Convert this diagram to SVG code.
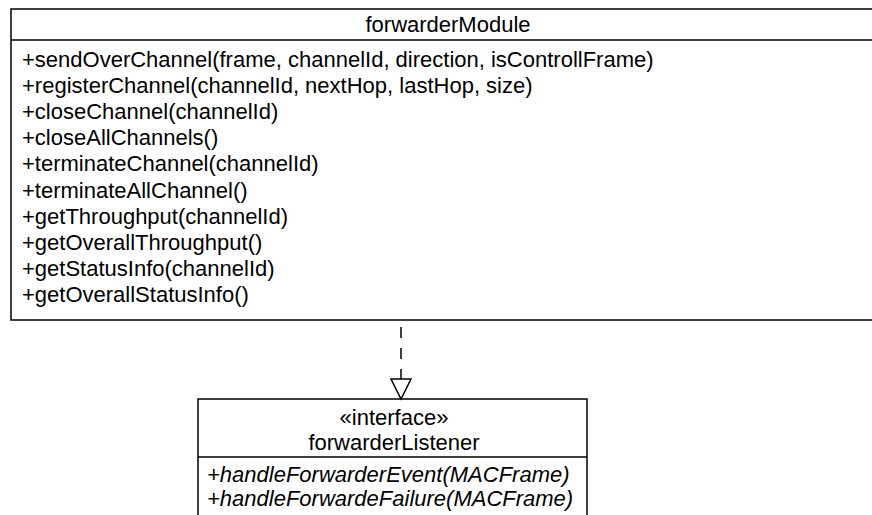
<svg xmlns="http://www.w3.org/2000/svg" width="872" height="515" viewBox="0 0 872 515">
  <style>
    .box { fill: #ffffff; stroke: #000000; stroke-width: 1.5; }
    .sep { stroke: #000000; stroke-width: 1.5; }
    text { font-family: "Liberation Sans", Arial, sans-serif; font-size: 22px; fill: #000000; }
    .c { text-anchor: middle; }
    .op { font-style: italic; }
    .dep { fill: none; stroke: #000000; stroke-width: 1.5; stroke-dasharray: 11 10; }
    .head { fill: #ffffff; stroke: #000000; stroke-width: 1.5; }
  </style>
  <rect width="872" height="515" fill="#ffffff"/>

  <!-- class forwarderModule -->
  <g id="forwarderModule">
    <rect class="box" x="11" y="9" width="875" height="311"/>
    <line class="sep" x1="11" y1="40" x2="886" y2="40"/>
    <text class="c" x="448" y="32">forwarderModule</text>
    <text x="22" y="67">+sendOverChannel(frame, channelId, direction, isControllFrame)</text>
    <text x="22" y="93">+registerChannel(channelId, nextHop, lastHop, size)</text>
    <text x="22" y="119">+closeChannel(channelId)</text>
    <text x="22" y="145">+closeAllChannels()</text>
    <text x="22" y="171">+terminateChannel(channelId)</text>
    <text x="22" y="198">+terminateAllChannel()</text>
    <text x="22" y="224">+getThroughput(channelId)</text>
    <text x="22" y="250">+getOverallThroughput()</text>
    <text x="22" y="276">+getStatusInfo(channelId)</text>
    <text x="22" y="302">+getOverallStatusInfo()</text>
  </g>

  <!-- interface forwarderListener -->
  <g id="forwarderListener">
    <rect class="box" x="198" y="399" width="389" height="130"/>
    <line class="sep" x1="198" y1="457" x2="587" y2="457"/>
    <text class="c" x="394" y="425">«interface»</text>
    <text class="c" x="394" y="450">forwarderListener</text>
    <text class="op" x="207" y="482">+handleForwarderEvent(MACFrame)</text>
    <text class="op" x="207" y="506">+handleForwardeFailure(MACFrame)</text>
  </g>

  <!-- realization: forwarderModule implements forwarderListener -->
  <g id="connectors">
    <line class="dep" x1="401" y1="327" x2="401" y2="379"/>
    <polygon class="head" points="391,379 411,379 401,399"/>
  </g>
</svg>
